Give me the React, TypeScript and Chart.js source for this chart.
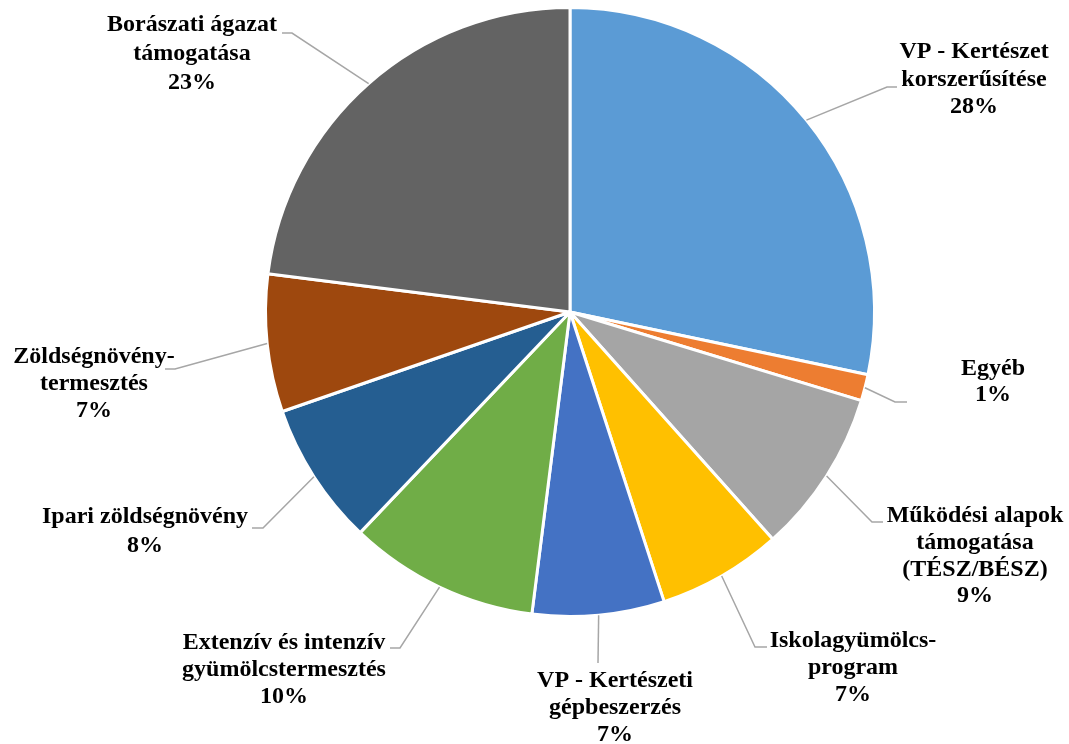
import React, { useEffect, useRef } from "react";
import { Chart, registerables } from "chart.js";

Chart.register(...registerables);

const categories: string[][] = [
  ["VP - Kertészet", "korszerűsítése"],
  ["Egyéb"],
  ["Működési alapok", "támogatása", "(TÉSZ/BÉSZ)"],
  ["Iskolagyümölcs-", "program"],
  ["VP - Kertészeti", "gépbeszerzés"],
  ["Extenzív és intenzív", "gyümölcstermesztés"],
  ["Ipari zöldségnövény"],
  ["Zöldségnövény-", "termesztés"],
  ["Borászati ágazat", "támogatása"],
];

const values: number[] = [28.3, 1.4, 8.7, 6.6, 7.0, 10.1, 7.6, 7.3, 23.0];

const colors: string[] = [
  "#5B9BD5",
  "#ED7D31",
  "#A5A5A5",
  "#FFC000",
  "#4472C4",
  "#70AD47",
  "#255E91",
  "#9E480E",
  "#636363",
];

// Annotation layout (label text centre, line middles, leader elbow and end)
const labelLayout = [
  { cx: 974, ys: [52, 80, 107], ex: 887, ey: 87, hx: 897 },
  { cx: 993, ys: [369, 395], ex: 895, ey: 402, hx: 907 },
  { cx: 975, ys: [516, 543, 570, 596], ex: 872, ey: 522, hx: 883 },
  { cx: 853, ys: [641, 668, 695], ex: 755, ey: 647, hx: 767 },
  { cx: 615, ys: [681, 708, 735], ex: 598, ey: 663, hx: 598 },
  { cx: 284, ys: [643, 670, 697], ex: 400, ey: 648, hx: 390 },
  { cx: 145, ys: [517, 546], ex: 263, ey: 528, hx: 252 },
  { cx: 94, ys: [357, 384, 411], ex: 175, ey: 369, hx: 165 },
  { cx: 192, ys: [25, 54, 83], ex: 292, ey: 33, hx: 282 },
];

const labelPlugin = {
  id: "outsideLabels",
  afterDraw(chart: any) {
    const ctx = chart.ctx;
    const meta = chart.getDatasetMeta(0);
    const total = values.reduce((a, b) => a + b, 0);
    ctx.save();
    meta.data.forEach((arc: any, i: number) => {
      const lay = labelLayout[i];
      const { x, y, startAngle, endAngle, outerRadius } = arc.getProps(
        ["x", "y", "startAngle", "endAngle", "outerRadius"],
        true
      );
      const mid = (startAngle + endAngle) / 2;
      const px = x + Math.cos(mid) * outerRadius;
      const py = y + Math.sin(mid) * outerRadius;
      ctx.strokeStyle = "#A6A6A6";
      ctx.lineWidth = 1.5;
      ctx.beginPath();
      ctx.moveTo(px, py);
      ctx.lineTo(lay.ex, lay.ey);
      ctx.lineTo(lay.hx, lay.ey);
      ctx.stroke();

      const pct = Math.round((values[i] / total) * 100) + "%";
      const lines = [...categories[i], pct];
      ctx.fillStyle = "#000000";
      ctx.font = "bold 24px 'Liberation Serif', 'Times New Roman', serif";
      ctx.textAlign = "center";
      ctx.textBaseline = "middle";
      lines.forEach((t, k) => {
        ctx.fillText(t, lay.cx, lay.ys[k]);
      });
    });
    ctx.restore();
  },
};

export default function App() {
  const ref = useRef<HTMLCanvasElement | null>(null);
  useEffect(() => {
    if (!ref.current) return;
    const chart = new Chart(ref.current, {
      type: "pie",
      data: {
        labels: categories.map((c) => c.join(" ")),
        datasets: [
          {
            data: values,
            backgroundColor: colors,
            borderColor: "#FFFFFF",
            borderWidth: 3,
            radius: 304.5,
          } as any,
        ],
      },
      options: {
        responsive: false,
        animation: false,
        layout: { padding: { left: 100, right: 29, top: 0, bottom: 120 } },
        plugins: {
          legend: { display: false },
          tooltip: { enabled: false },
        },
      } as any,
      plugins: [labelPlugin],
    });
    return () => chart.destroy();
  }, []);
  return (
    <div style={{ position: "absolute", left: 0, top: 0, width: 1069, height: 744, background: "#fff" }}>
      <canvas ref={ref} width={1069} height={744} />
    </div>
  );
}
